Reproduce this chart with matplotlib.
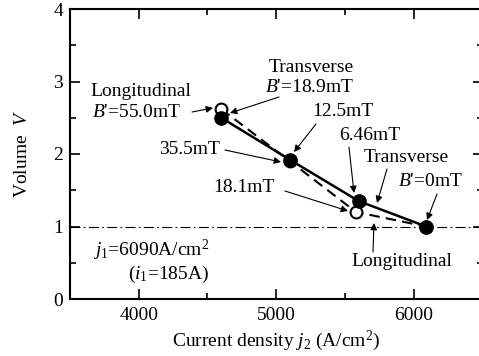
import numpy as np
import matplotlib
matplotlib.use("Agg")
import matplotlib.pyplot as plt
from matplotlib.ticker import MultipleLocator

plt.rcParams["font.family"] = ["Liberation Serif", "DejaVu Serif"]
plt.rcParams["mathtext.fontset"] = "custom"
plt.rcParams["mathtext.rm"] = "Liberation Serif"
plt.rcParams["mathtext.it"] = "Liberation Serif:italic"

# data
j2_trans = [4600, 5100, 5600, 6090]
v_trans = [2.50, 1.92, 1.35, 1.00]
j2_long = [4600, 5100, 5580, 6090]
v_long = [2.62, 1.90, 1.20, 1.00]

W, H = 479, 356
FS = 14


def fp(x, y):
    # figure pixel coords measured from the top-left corner
    return (x, H - y)


fig = plt.figure(figsize=(W / 100, H / 100), dpi=100)
ax = fig.add_axes([70 / W, 1 - 299 / H, 412.5 / W, 290 / H])

ax.axhline(1.0, color="black", lw=0.8, ls=(0, (9, 3, 1.5, 3)), zorder=1)
ax.plot(j2_long, v_long, "--", color="black", lw=1.5, dashes=(5, 3),
        marker="o", ms=8.5, mfc="white", mec="black", mew=1.5, zorder=3)
ax.plot(j2_trans, v_trans, "-", color="black", lw=1.8, marker="o",
        ms=9.5, mfc="black", mec="black", zorder=4)

ax.set_xlim(3500, 6500)
ax.set_ylim(0, 4)
ax.xaxis.set_major_locator(MultipleLocator(1000))
ax.xaxis.set_minor_locator(MultipleLocator(500))
ax.yaxis.set_major_locator(MultipleLocator(1))
ax.yaxis.set_minor_locator(MultipleLocator(0.5))
ax.tick_params(which="both", direction="in", top=True, right=True,
               labelsize=FS, width=1.2)
ax.tick_params(which="major", length=7)
ax.tick_params(axis="x", which="major", pad=6)
ax.tick_params(axis="y", which="major", pad=5)
ax.tick_params(which="minor", length=4)
for s in ax.spines.values():
    s.set_linewidth(1.5)

ax.set_xlabel(r"Current density $j_2$ (A/cm$^2$)", fontsize=FS, labelpad=3)
ax.set_ylabel(r"Volume  $V$", fontsize=FS, labelpad=16)

arrow = dict(arrowstyle="-|>", color="black", lw=0.8,
             mutation_scale=10, shrinkA=0, shrinkB=0)


def label(x, y, s, ha="center"):
    fig.text(x / W, 1 - y / H, s, fontsize=FS, ha=ha, va="center")


def pointer(start, end):
    ax.annotate("", xy=fp(*end), xycoords="figure pixels",
                xytext=fp(*start), textcoords="figure pixels",
                arrowprops=arrow)


label(90, 91, "Longitudinal", ha="left")
label(92, 113, r"$B$'=55.0mT", ha="left")
pointer((192, 112), (213, 108))

label(311, 68, "Transverse")
label(310, 88, r"$B$'=18.9mT")
pointer((279, 97), (230, 113))

label(343, 112, "12.5mT")
pointer((316, 124), (294, 152))

label(190, 149, "35.5mT")
pointer((225, 150), (281, 162))

label(370, 135, "6.46mT")
pointer((349, 147), (354, 193))

label(406, 158, "Transverse")
pointer((387, 169), (377, 203))

label(430, 182, r"$B$'=0mT")
pointer((437, 194), (427, 220))

label(244, 187, "18.1mT")
pointer((285, 191), (348, 211))

label(402, 262, "Longitudinal")
pointer((373, 252), (374, 223))

label(93, 250, r"$j_1$=6090A/cm$^2$", ha="left")
label(128, 274, r"($i_1$=185A)", ha="left")

fig.savefig("out.png", dpi=100)
